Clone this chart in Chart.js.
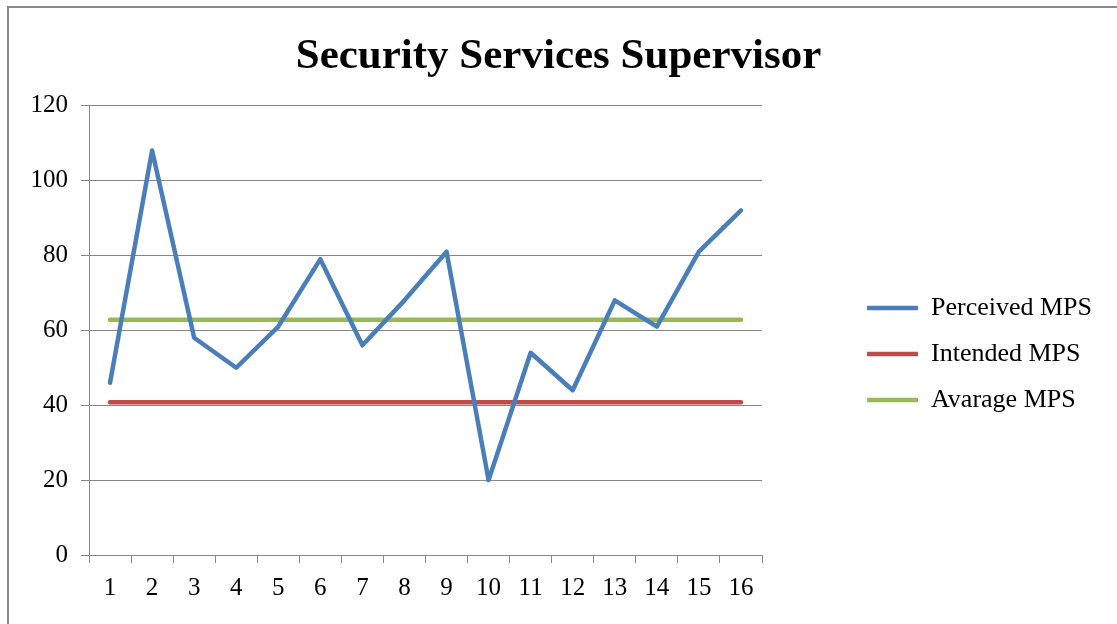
<!DOCTYPE html>
<html>
<head>
<meta charset="utf-8">
<script src="https://cdn.jsdelivr.net/npm/chart.js@4/dist/chart.umd.min.js"></script>
<style>
  html, body { margin: 0; padding: 0; background: #ffffff; overflow: hidden; }
  #wrap { position: relative; width: 1117px; height: 624px; }
  #frame { position: absolute; left: 7px; top: 6px; width: 2000px; height: 2000px;
           border: 2px solid #8a8a8a; pointer-events: none; box-sizing: border-box; }
  canvas { position: absolute; left: 0; top: 0; }
</style>
</head>
<body>
<div id="wrap">
  <canvas id="c" width="1117" height="624"></canvas>
  <div id="frame"></div>
</div>
<script>
const titleText = "Security Services Supervisor";
const categories = ["1","2","3","4","5","6","7","8","9","10","11","12","13","14","15","16"];
const perceivedMPS = [46, 108, 58, 50, 61, 79, 56, 68, 81, 20, 54, 44, 68, 61, 81, 92];
const intendedMPS = [40.8, 40.8, 40.8, 40.8, 40.8, 40.8, 40.8, 40.8, 40.8, 40.8, 40.8, 40.8, 40.8, 40.8, 40.8, 40.8];
const averageMPS = [62.8, 62.8, 62.8, 62.8, 62.8, 62.8, 62.8, 62.8, 62.8, 62.8, 62.8, 62.8, 62.8, 62.8, 62.8, 62.8];
const seriesNames = ["Perceived MPS", "Intended MPS", "Avarage MPS"];
const yTicks = [0, 20, 40, 60, 80, 100, 120];

const FONT = "'Liberation Serif', 'Times New Roman', serif";
const GRID = "#868686";

function ds(label, data, color) {
  return {
    label, data,
    borderColor: color, backgroundColor: color,
    borderWidth: 4.5, borderCapStyle: 'round', borderJoinStyle: 'round',
    pointRadius: 0, pointHoverRadius: 0, tension: 0, fill: false,
    pointStyle: 'line'
  };
}

const legendPlace = {
  id: 'legendPlace',
  beforeInit(chart) {
    const lg = chart.legend;
    const origFit = lg.fit;
    lg.fit = function () {
      origFit.call(this);
      this.width = 1117 - 762;
    };
  },
  afterLayout(chart) {
    const lg = chart.legend;
    const pad = lg.options.labels.padding;
    lg.left = 867 - pad;
    lg.right = lg.left + 300;
    lg.top = 308 - 13 - pad;
    lg.bottom = lg.top + 200;
  }
};

new Chart(document.getElementById('c'), {
  type: 'line',
  data: {
    labels: categories,
    datasets: [
      ds(seriesNames[0], perceivedMPS, '#4a7ebb'),
      ds(seriesNames[1], intendedMPS, '#be4b48'),
      ds(seriesNames[2], averageMPS, '#98b954')
    ]
  },
  options: {
    responsive: false,
    animation: false,
    devicePixelRatio: 1,
    layout: { padding: { left: 0, right: 0, top: 0, bottom: 0 } },
    plugins: {
      title: {
        display: true, text: titleText, color: '#000',
        font: { family: FONT, size: 43, weight: 'bold' },
        padding: { top: 31, bottom: 23 }
      },
      legend: {
        display: true, position: 'right', align: 'start',
        labels: {
          color: '#000', font: { family: FONT, size: 26 },
          usePointStyle: true, pointStyle: 'line', pointStyleWidth: 51,
          padding: 20
        }
      },
      tooltip: { enabled: false }
    },
    scales: {
      x: {
        offset: true,
        grid: { display: true, drawOnChartArea: false, drawTicks: true, tickLength: 8,
                color: GRID, offset: true },
        border: { display: true, color: GRID, width: 1 },
        ticks: { color: '#000', font: { family: FONT, size: 25 }, padding: 10,
                 maxRotation: 0, autoSkip: false },
        afterFit(s) { s.height = 624 - 555; }
      },
      y: {
        min: 0, max: 120,
        afterBuildTicks(s) { s.ticks = yTicks.map(v => ({ value: v })); },
        grid: { color: GRID, drawTicks: true, tickLength: 8, lineWidth: 1 },
        border: { display: true, color: GRID, width: 1 },
        ticks: { color: '#000', font: { family: FONT, size: 25 }, padding: 13 },
        afterFit(s) { s.width = 89; }
      }
    }
  },
  plugins: [legendPlace]
});
</script>
</body>
</html>
